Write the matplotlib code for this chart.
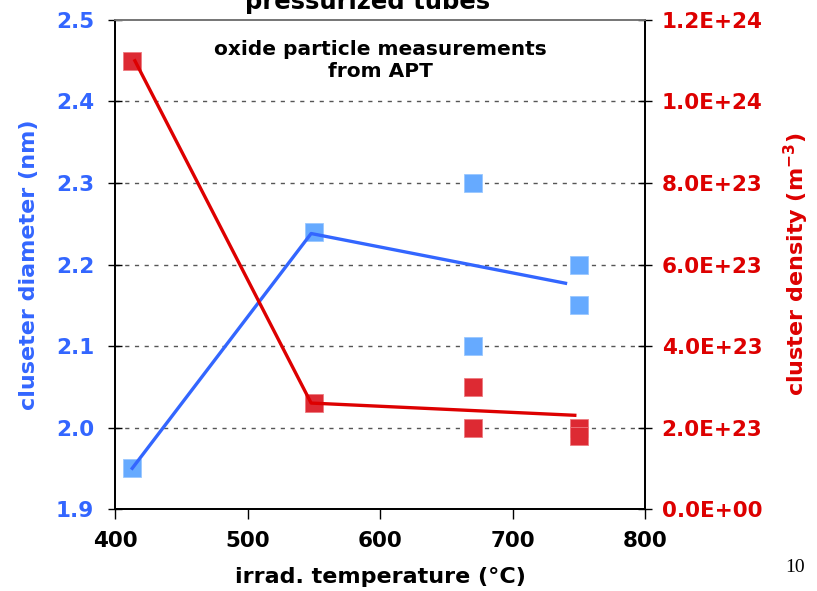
import matplotlib
matplotlib.use("Agg")
import matplotlib.pyplot as plt
from matplotlib.ticker import FuncFormatter, MultipleLocator

# --- data ---
diam_temp = [413, 550, 670, 670, 750, 750]
diam_vals = [1.95, 2.24, 2.30, 2.10, 2.20, 2.15]
dens_temp = [413, 550, 670, 670, 750, 750]
dens_vals = [1.10e24, 2.6e23, 3.0e23, 2.0e23, 2.0e23, 1.8e23]
diam_line_temp = [413, 548, 740]
diam_line_vals = [1.95, 2.238, 2.177]
dens_line_temp = [415, 548, 747]
dens_line_vals = [1.10e24, 2.6e23, 2.3e23]

BLUE_TXT = "#3366ff"
BLUE_PT = "#66aaff"
RED_TXT = "#dd0000"
RED_PT = "#dd2a33"

fig = plt.figure(figsize=(8.17, 5.91), dpi=100)
ax = fig.add_axes([0.1408, 0.1387, 0.6487, 0.8275])
ax2 = ax.twinx()

ax.set_xlim(400, 800)
ax.set_ylim(1.9, 2.5)
ax2.set_ylim(0, 1.2e24)

ax.plot(diam_temp, diam_vals, linestyle="none", marker="s", markersize=13,
        color=BLUE_PT, markeredgecolor="#99c8ff", markeredgewidth=0.6, zorder=2)
ax.plot(diam_line_temp, diam_line_vals, color=BLUE_TXT, linewidth=2.4, zorder=3)

ax2.plot(dens_temp, dens_vals, linestyle="none", marker="s", markersize=13,
         color=RED_PT, markeredgecolor="#ee7a80", markeredgewidth=0.6, zorder=2)
ax2.plot(dens_line_temp, dens_line_vals, color=RED_TXT, linewidth=2.4, zorder=3)

# grid
for y in [2.0, 2.1, 2.2, 2.3, 2.4]:
    ax.axhline(y, color="#555555", linestyle=(0, (3, 4)), linewidth=1.0, zorder=1)

ax.xaxis.set_major_locator(MultipleLocator(100))
ax.yaxis.set_major_locator(MultipleLocator(0.1))
ax2.yaxis.set_major_locator(MultipleLocator(2e23))
ax.yaxis.set_major_formatter(FuncFormatter(lambda v, p: f"{v:.1f}"))
ax2.yaxis.set_major_formatter(FuncFormatter(lambda v, p: f"{v:.1E}"))

ax.tick_params(axis="x", direction="out", length=7, width=1, labelsize=15.5, pad=9)
ax.tick_params(axis="y", direction="inout", length=10, width=1, labelsize=15.5,
               labelcolor=BLUE_TXT, pad=10)
ax2.tick_params(axis="y", direction="inout", length=10, width=1, labelsize=15.5,
                labelcolor=RED_TXT, pad=7)
for lab in ax.get_xticklabels() + ax.get_yticklabels() + ax2.get_yticklabels():
    lab.set_fontweight("bold")

for a in (ax, ax2):
    for s in ["left", "right", "bottom"]:
        a.spines[s].set_linewidth(1.3)
        a.spines[s].set_color("black")
    a.spines["top"].set_color("#777777")
    a.spines["top"].set_linewidth(1.3)

ax.set_xlabel("irrad. temperature (°C)", fontsize=16, fontweight="bold", labelpad=11)
ax.set_ylabel("cluseter diameter (nm)", fontsize=16, fontweight="bold",
              color=BLUE_TXT, labelpad=12)
ax2.set_ylabel("cluster density (m$^{\\mathbf{-3}}$)", fontsize=16, fontweight="bold",
               color=RED_TXT, labelpad=14)

ax.text(0.5, 0.918, "oxide particle measurements\nfrom APT", transform=ax.transAxes,
        ha="center", va="center", fontsize=14.5, fontweight="bold", linespacing=1.2)

fig.text(368 / 817, 1 - 2 / 591, "pressurized tubes", ha="center", va="center",
         fontsize=17.5, fontweight="bold")
fig.text(795 / 817, 1 - 568 / 591, "10", ha="center", va="center",
         fontsize=14, family="Liberation Serif")

fig.savefig("out.png", dpi=100)
